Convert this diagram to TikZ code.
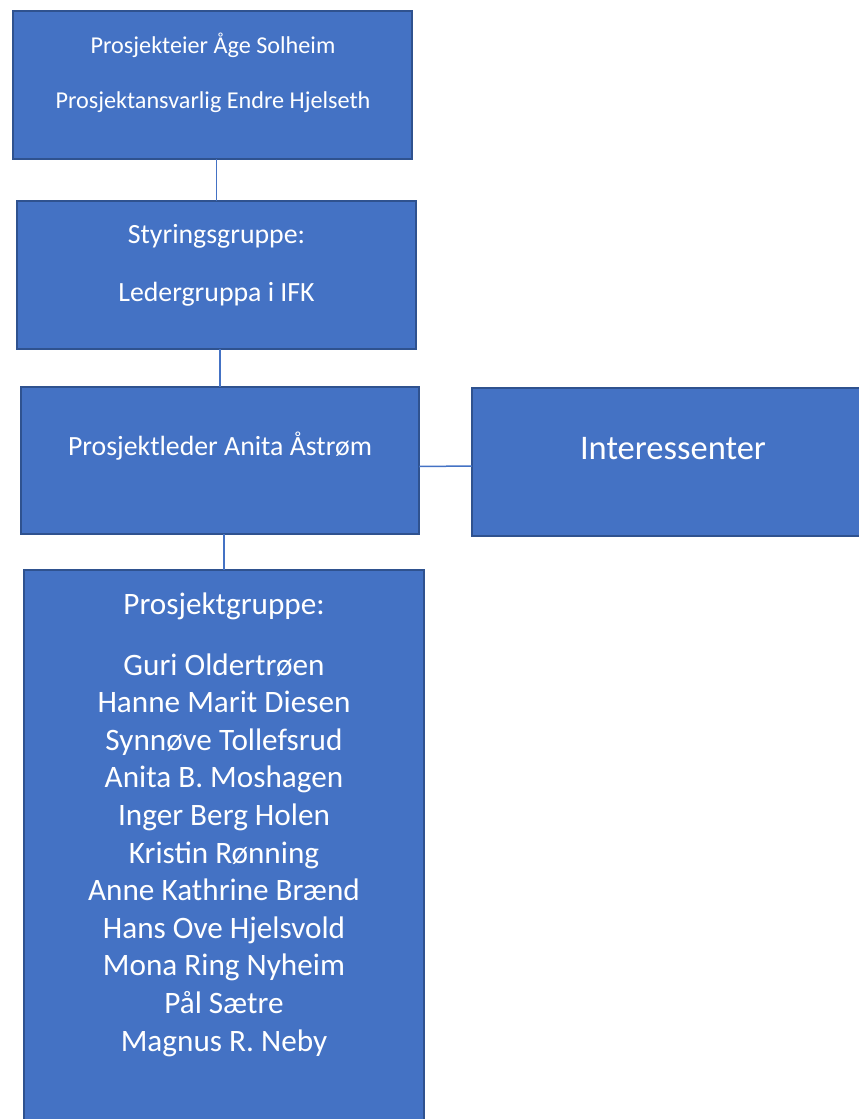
\documentclass[tikz,border=0pt]{standalone}
\usepackage{fontspec}
\setmainfont{Carlito}
\definecolor{boxfill}{HTML}{4472C4}
\definecolor{boxline}{HTML}{2F528F}
\definecolor{conn}{HTML}{4472C4}
\begin{document}
\begin{tikzpicture}[x=1pt,y=-1pt,
  box/.style={draw=boxline,fill=boxfill,line width=2pt,inner sep=0pt,outer sep=0pt,rectangle},
  txt/.style={text=white,anchor=base,inner sep=0pt,outer sep=0pt},
  fa/.style={font=\fontsize{24.2}{29}\selectfont},
  fb/.style={font=\fontsize{27.8}{33}\selectfont},
  fc/.style={font=\fontsize{34.5}{41}\selectfont},
  fd/.style={font=\fontsize{31.2}{37.6}\selectfont},
  link/.style={draw=conn,line width=1.5pt}]
\useasboundingbox (0,0) rectangle (859,1119);
\clip (0,0) rectangle (859,1119);
% boxes
\node[box,minimum width=399pt,minimum height=148pt] (eier) at (212.5,85) {};
\node[box,minimum width=399pt,minimum height=148pt] (styr) at (216.5,275) {};
\node[box,minimum width=398pt,minimum height=147pt] (leder) at (220,460.5) {};
\node[box,minimum width=402pt,minimum height=148pt] (inter) at (673,462) {};
\node[box,minimum width=400pt,minimum height=600pt] (gruppe) at (224,870) {};
% connectors
\draw[link] (styr.north) -- (styr.north |- eier.south);
\draw[link] (leder.north) -- (leder.north |- styr.south);
\draw[link] (gruppe.north) -- (gruppe.north |- leder.south);
\draw[link] ([yshift=-6pt]leder.east) -- ([yshift=-4pt]inter.west);
% texts
\node[txt,fa] (t1) at (213,53) {Prosjekteier Åge Solheim};
\node[txt,fa] (t2) at (213,108) {Prosjektansvarlig Endre Hjelseth};
\node[txt,fb] (t3) at (216.5,243) {Styringsgruppe:};
\node[txt,fb] (t4) at (216.5,301) {Ledergruppa i IFK};
\node[txt,fb] (t5) at (220,455) {Prosjektleder Anita Åstrøm};
\node[txt,fc] (t6) at (673,459) {Interessenter};
\node[txt,fd] (t7) at (224,614) {Prosjektgruppe:};
\foreach \nm [count=\i from 0] in {Guri Oldertrøen,Hanne Marit Diesen,Synnøve Tollefsrud,Anita B. Moshagen,Inger Berg Holen,Kristin Rønning,Anne Kathrine Brænd,Hans Ove Hjelsvold,Mona Ring Nyheim,Pål Sætre,Magnus R. Neby}
  \node[txt,fd] (m\i) at (224,675+37.6*\i) {\nm};
\end{tikzpicture}
\end{document}
